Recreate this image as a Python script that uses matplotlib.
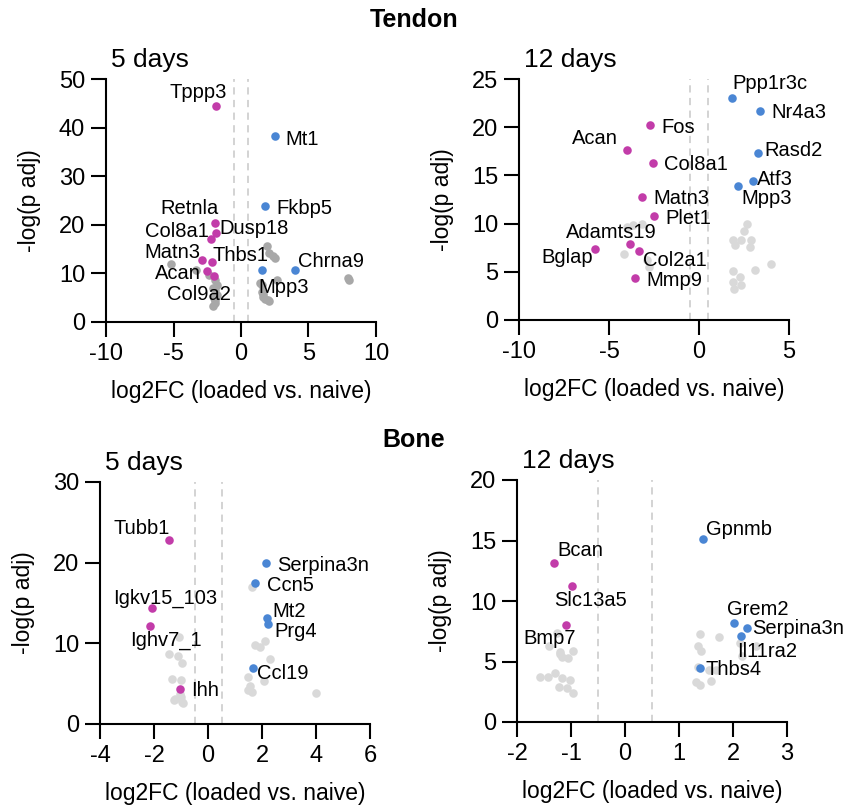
import numpy as np
import matplotlib.pyplot as plt

plt.rcParams['font.family'] = ['Liberation Sans', 'DejaVu Sans']
plt.rcParams['axes.unicode_minus'] = False

MAGENTA = '#c23ca9'
BLUE = '#4a86d4'
DARK_GREY = '#a8a8a8'
LIGHT_GREY = '#d9d9d9'

# ---- Tendon, 5 days ----
t5_down_genes = ['Tppp3', 'Retnla', 'Dusp18', 'Col8a1', 'Matn3', 'Thbs1', 'Acan', 'Col9a2']
t5_down_x = [-1.85, -1.95, -1.85, -2.22, -2.86, -2.15, -2.54, -2.0]
t5_down_y = [44.4, 20.3, 18.4, 17.0, 12.7, 12.3, 10.4, 9.4]
t5_up_genes = ['Mt1', 'Fkbp5', 'Mpp3', 'Chrna9']
t5_up_x = [2.54, 1.75, 1.53, 4.0]
t5_up_y = [38.2, 23.9, 10.6, 10.6]
t5_ns_x = [-5.21, -3.33, -2.35, -1.93, -1.8, -2.1, -1.93, -1.8, -2.0, -1.93, -1.9, -2.05,
           1.9, 2.1, 2.35, 2.52, 2.64, 1.41, 1.53, 1.53, 1.65, 1.65, 1.78, 2.02, 2.1, 7.95, 8.0]
t5_ns_y = [11.9, 10.8, 9.7, 8.7, 7.6, 7.0, 6.6, 5.6, 5.0, 4.5, 4.0, 3.3,
           15.7, 14.1, 13.5, 13.1, 8.7, 8.0, 7.6, 6.25, 5.8, 5.2, 4.8, 4.5, 4.3, 9.1, 8.7]

# ---- Tendon, 12 days ----
t12_down_genes = ['Fos', 'Acan', 'Col8a1', 'Matn3', 'Plet1', 'Adamts19', 'Col2a1', 'Bglap', 'Mmp9']
t12_down_x = [-2.75, -4.0, -2.53, -3.17, -2.49, -3.84, -3.34, -5.77, -3.56]
t12_down_y = [20.2, 17.6, 16.3, 12.8, 10.8, 7.9, 7.2, 7.4, 4.35]
t12_up_genes = ['Ppp1r3c', 'Nr4a3', 'Rasd2', 'Atf3', 'Mpp3']
t12_up_x = [1.86, 3.39, 3.26, 2.98, 2.19]
t12_up_y = [23.0, 21.7, 17.3, 14.4, 13.9]
t12_ns_x = [-3.64, -4.0, -3.17, -4.16, -2.9, -2.8,
            2.69, 2.5, 1.91, 2.32, 1.99, 2.87, 2.84, 3.98, 3.11, 1.87, 2.28, 1.87, 2.35, 1.95]
t12_ns_y = [9.84, 9.67, 9.94, 6.84, 6.2, 5.5,
            9.95, 9.25, 8.3, 8.3, 7.74, 8.3, 7.53, 5.8, 5.18, 5.1, 4.5, 3.97, 3.66, 3.18]

# ---- Bone, 5 days ----
b5_down_genes = ['Tubb1', 'Igkv15_103', 'Ighv7_1', 'Ihh']
b5_down_x = [-1.46, -2.09, -2.16, -1.04]
b5_down_y = [22.8, 14.4, 12.2, 4.3]
b5_up_genes = ['Serpina3n', 'Ccn5', 'Mt2', 'Prg4', 'Ccl19']
b5_up_x = [2.15, 1.75, 2.19, 2.22, 1.65]
b5_up_y = [20.0, 17.5, 13.1, 12.4, 7.0]
b5_ns_x = [1.62, 2.11, 1.74, 1.93, 2.3, 1.49, 2.09, 1.56, 1.49, 1.62, 4.0,
           -1.07, -1.43, -1.1, -0.97, -1.32, -0.99, -1.22, -1.01, -0.97, -1.26, -1.04, -0.94]
b5_ns_y = [17.0, 10.3, 9.75, 9.6, 8.1, 5.8, 5.33, 4.7, 4.18, 3.97, 3.88,
           10.8, 8.7, 8.4, 7.56, 5.6, 5.4, 3.15, 3.4, 2.73, 3.0, 3.7, 2.6]

# ---- Bone, 12 days ----
b12_down_genes = ['Bcan', 'Slc13a5', 'Bmp7']
b12_down_x = [-1.32, -0.98, -1.09]
b12_down_y = [13.1, 11.25, 7.98]
b12_up_genes = ['Gpnmb', 'Grem2', 'Serpina3n', 'Il11ra2', 'Thbs4']
b12_up_x = [1.45, 2.01, 2.26, 2.14, 1.39]
b12_up_y = [15.1, 8.2, 7.8, 7.1, 4.43]
b12_ns_x = [-1.41, -1.26, -1.2, -1.05, -0.97, -1.58, -1.43, -1.29, -1.17, -1.01, -1.23, -1.08, -0.97, -1.2, -1.17,
            1.39, 1.74, 1.36, 1.4, 2.13, 2.43, 2.16, 1.36, 1.55, 1.69, 1.32, 1.38, 1.6]
b12_ns_y = [6.3, 7.35, 5.75, 5.28, 5.9, 3.69, 3.69, 4.04, 3.63, 3.49, 2.89, 2.8, 2.39, 5.6, 5.41,
            7.29, 6.99, 6.3, 5.83, 6.52, 6.24, 5.42, 4.51, 4.32, 4.32, 3.3, 3.08, 3.38]

# label centres (data units) for each panel
t5_labels = {'Tppp3': (-3.14, 47.2), 'Retnla': (-3.78, 23.4), 'Dusp18': (0.99, 19.2),
             'Col8a1': (-4.77, 18.7), 'Matn3': (-5.1, 14.4), 'Thbs1': (-0.07, 13.6),
             'Acan': (-4.7, 9.9), 'Col9a2': (-3.11, 5.6), 'Mt1': (4.54, 37.6),
             'Fkbp5': (4.67, 23.4), 'Mpp3': (3.14, 7.1), 'Chrna9': (6.64, 12.4)}
t12_labels = {'Fos': (-1.14, 20.0), 'Acan': (-5.78, 18.8), 'Col8a1': (-0.18, 16.1),
              'Matn3': (-0.96, 12.6), 'Plet1': (-0.6, 10.5), 'Adamts19': (-4.86, 9.1),
              'Col2a1': (-1.34, 6.15), 'Bglap': (-7.34, 6.5), 'Mmp9': (-1.36, 4.14),
              'Ppp1r3c': (3.95, 24.5), 'Nr4a3': (5.55, 21.5), 'Rasd2': (5.26, 17.6),
              'Atf3': (4.2, 14.6), 'Mpp3': (3.76, 12.6)}
b5_labels = {'Tubb1': (-2.46, 24.2), 'Igkv15_103': (-1.6, 15.6), 'Ighv7_1': (-1.57, 10.4),
             'Ihh': (-0.1, 4.1), 'Serpina3n': (4.28, 19.7), 'Ccn5': (3.05, 17.2),
             'Mt2': (3.01, 14.0), 'Prg4': (3.26, 11.5), 'Ccl19': (2.78, 6.24)}
b12_labels = {'Bcan': (-0.83, 14.2), 'Slc13a5': (-0.64, 10.0), 'Bmp7': (-1.39, 6.9),
              'Gpnmb': (2.11, 15.9), 'Grem2': (2.45, 9.3), 'Serpina3n': (3.2, 7.7),
              'Il11ra2': (2.64, 5.83), 'Thbs4': (2.01, 4.32)}

W, H = 844, 806
fig = plt.figure(figsize=(W / 100, H / 100), dpi=100)


def px_axes(left, top, right, bottom):
    return fig.add_axes([left / W, 1 - bottom / H, (right - left) / W, (bottom - top) / H])


def panel(ax, title, ns_x, ns_y, ns_col, down, up, labels, xlim, ylim, xticks, yticks):
    ax.axvline(-0.5, color='#d0d0d0', lw=1.3, ls=(0, (4, 3)), zorder=1)
    ax.axvline(0.5, color='#d0d0d0', lw=1.3, ls=(0, (4, 3)), zorder=1)
    ax.scatter(ns_x, ns_y, s=38, color=ns_col, lw=0, zorder=2, clip_on=False)
    for genes, xs, ys, col in [down + (MAGENTA,), up + (BLUE,)]:
        ax.scatter(xs, ys, s=38, color=col, lw=0, zorder=3, clip_on=False)
    for g, (lx, ly) in labels.items():
        ax.text(lx, ly, g, fontsize=14.5, ha='center', va='center', zorder=4)
    ax.set_xlim(xlim)
    ax.set_ylim(ylim)
    ax.set_xticks(xticks)
    ax.set_yticks(yticks)
    for s in ['top', 'right']:
        ax.spines[s].set_visible(False)
    for s in ['left', 'bottom']:
        ax.spines[s].set_linewidth(1.5)
    ax.tick_params(direction='out', length=11, width=1.5, labelsize=17, pad=4)
    ax.set_xlabel('log2FC (loaded vs. naive)', fontsize=16.5, labelpad=11)
    ax.set_ylabel('-log(p adj)', fontsize=16.5, labelpad=13)
    ax.text(0.02, 1.08, title, transform=ax.transAxes, fontsize=19, va='center', ha='left')


ax1 = px_axes(106, 79, 376, 322)
panel(ax1, '5 days', t5_ns_x, t5_ns_y, DARK_GREY,
      (t5_down_genes, t5_down_x, t5_down_y), (t5_up_genes, t5_up_x, t5_up_y),
      t5_labels, (-10, 10), (0, 50), [-10, -5, 0, 5, 10], [0, 10, 20, 30, 40, 50])

ax2 = px_axes(519, 79, 789, 320)
panel(ax2, '12 days', t12_ns_x, t12_ns_y, LIGHT_GREY,
      (t12_down_genes, t12_down_x, t12_down_y), (t12_up_genes, t12_up_x, t12_up_y),
      t12_labels, (-10, 5), (0, 25), [-10, -5, 0, 5], [0, 5, 10, 15, 20, 25])

ax3 = px_axes(100, 482, 370, 724)
panel(ax3, '5 days', b5_ns_x, b5_ns_y, LIGHT_GREY,
      (b5_down_genes, b5_down_x, b5_down_y), (b5_up_genes, b5_up_x, b5_up_y),
      b5_labels, (-4, 6), (0, 30), [-4, -2, 0, 2, 4, 6], [0, 10, 20, 30])

ax4 = px_axes(517, 480, 787, 722)
panel(ax4, '12 days', b12_ns_x, b12_ns_y, LIGHT_GREY,
      (b12_down_genes, b12_down_x, b12_down_y), (b12_up_genes, b12_up_x, b12_up_y),
      b12_labels, (-2, 3), (0, 20), [-2, -1, 0, 1, 2, 3], [0, 5, 10, 15, 20])

fig.text(414 / W, 1 - 20 / H, 'Tendon', fontsize=18, fontweight='bold', ha='center', va='center')
fig.text(414 / W, 1 - 440 / H, 'Bone', fontsize=18, fontweight='bold', ha='center', va='center')

fig.savefig('out.png', dpi=100)
